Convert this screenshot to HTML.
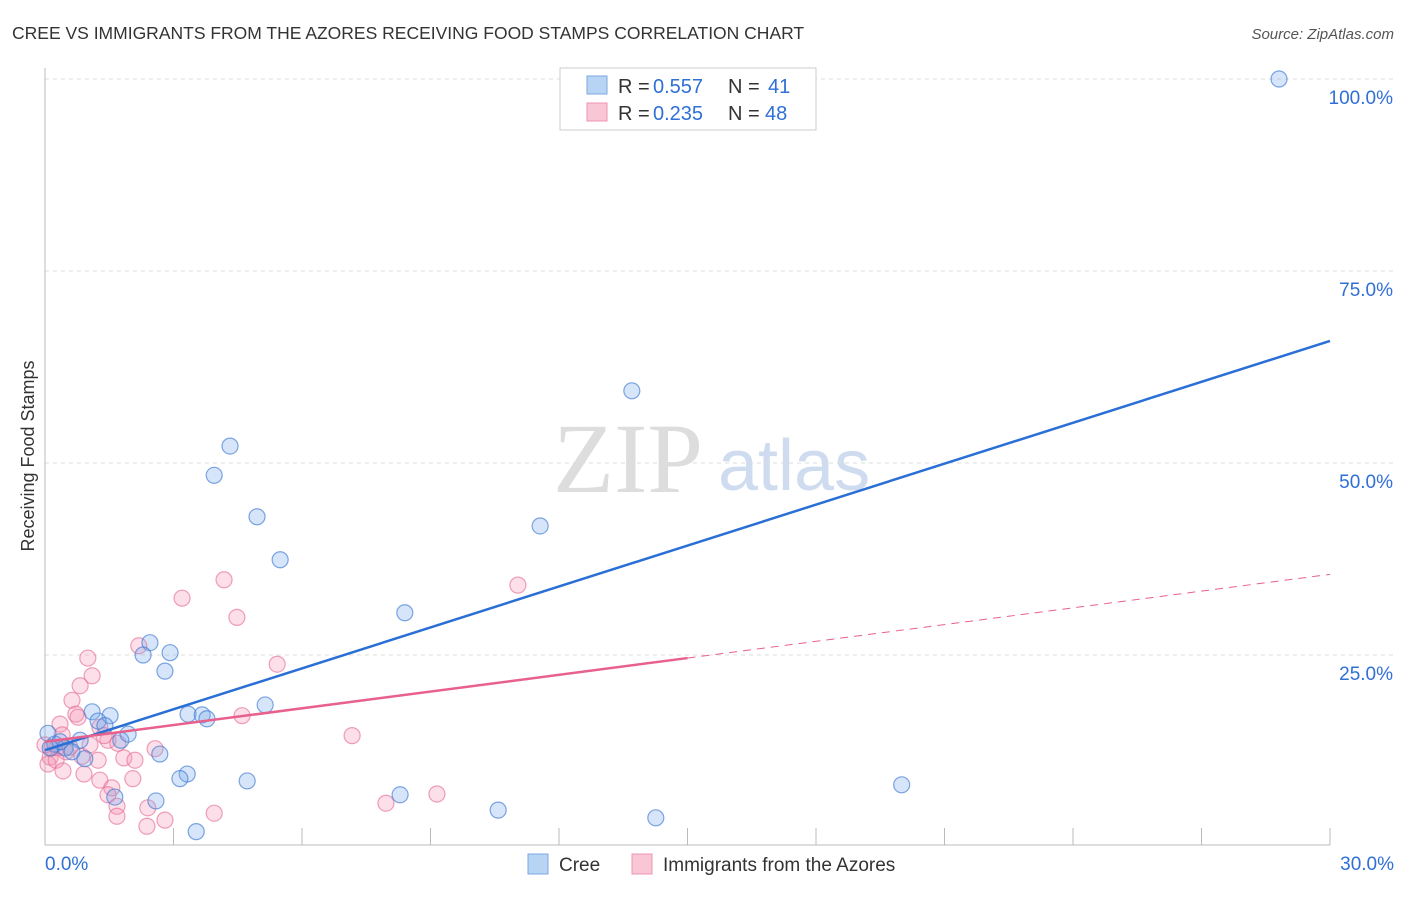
<!DOCTYPE html>
<html><head><meta charset="utf-8"><style>
body{margin:0;background:#fff;font-family:"Liberation Sans",sans-serif;}
svg text{font-family:"Liberation Sans",sans-serif;}
</style></head><body>
<svg id="c" width="1406" height="892">
<text x="12" y="39" font-size="17.5" fill="#333">CREE VS IMMIGRANTS FROM THE AZORES RECEIVING FOOD STAMPS CORRELATION CHART</text>
<text x="1394" y="39" font-size="15" fill="#555" font-style="italic" text-anchor="end">Source: ZipAtlas.com</text>
<text x="34" y="456" font-size="18" fill="#333" text-anchor="middle" transform="rotate(-90 34 456)">Receiving Food Stamps</text>
<text x="553" y="492" font-size="100" fill="#ddd" style="font-family:'Liberation Serif',serif">ZIP</text>
<text x="718" y="490" font-size="72" fill="#cfdcf0">atlas</text>
<g id="grid"></g><g id="pts"></g><g id="lines"></g>
<g>
<rect x="560" y="68" width="256" height="62" fill="#fff" stroke="#ccc"/>
<rect x="587" y="76" width="20" height="18" fill="#b8d4f5" stroke="#7aa9e0"/>
<rect x="587" y="103" width="20" height="18" fill="#f9c6d6" stroke="#ee95b2"/>
<text x="618" y="93" font-size="20" fill="#333">R =</text><text x="653" y="93" font-size="20" fill="#2f6fd6">0.557</text>
<text x="728" y="93" font-size="20" fill="#333">N =</text><text x="768" y="93" font-size="20" fill="#2f6fd6">41</text>
<text x="618" y="120" font-size="20" fill="#333">R =</text><text x="653" y="120" font-size="20" fill="#2f6fd6">0.235</text>
<text x="728" y="120" font-size="20" fill="#333">N =</text><text x="765" y="120" font-size="20" fill="#2f6fd6">48</text>
</g>
<g>
<rect x="528" y="854" width="20" height="20" fill="#b8d4f5" stroke="#7aa9e0"/>
<text x="559" y="871" font-size="19" fill="#333">Cree</text>
<rect x="632" y="854" width="20" height="20" fill="#f9c6d6" stroke="#ee95b2"/>
<text x="663" y="871" font-size="19" fill="#333">Immigrants from the Azores</text>
</g>
</svg>
<script>
const yTicks=[100,75,50,25];
const yTickLabels=["100.0%","75.0%","50.0%","25.0%"];
const xTickLabels=["0.0%","30.0%"];
const creeX=[28.81,13.70,4.32,3.95,4.95,11.56,5.49,8.40,2.45,2.29,2.92,2.80,5.14,3.34,3.67,3.78,1.10,1.52,1.24,1.40,1.77,1.94,0.82,0.23,0.47,0.07,0.63,2.68,3.32,3.15,4.72,0.93,1.63,2.59,8.29,10.58,14.26,3.53,20.0,0.35,0.12];
const creeY=[100,59.4,52.2,48.4,43.0,41.8,37.4,30.5,26.6,25.0,25.3,22.9,18.5,17.3,17.2,16.7,17.6,17.1,16.4,15.8,13.9,14.7,13.9,13.4,12.9,14.8,12.4,12.1,9.5,8.9,8.6,11.5,6.5,6.0,6.8,4.8,3.8,2.0,8.1,13.7,12.9];
const azX=[4.18,3.20,4.48,11.04,2.19,1.00,1.10,0.82,0.63,5.42,4.60,7.17,0.35,0.72,0.77,1.28,0.40,1.47,1.38,0.28,0.49,0.86,0.12,0.07,0.26,0.42,1.84,2.10,2.57,1.24,0.91,1.28,1.56,2.05,1.47,1.68,1.68,2.40,2.38,2.80,3.95,7.96,9.15,0.16,0,0.58,1.05,1.70];
const azY=[34.8,32.4,29.9,34.1,26.2,24.6,22.3,21.0,19.1,23.8,17.1,14.5,16.0,17.3,16.9,15.6,14.6,13.9,14.5,12.9,12.4,11.8,11.7,10.8,11.3,9.9,11.6,11.3,12.8,11.3,9.5,8.7,7.7,8.9,6.8,5.3,4.0,5.1,2.7,3.5,4.4,5.7,6.9,12.9,13.3,13.0,13.3,13.5];
const creeTrend=[12.6,65.9];
const azTrend=[13.7,35.5];
const azSolidEnd=15;
const X=v=>45+v/30*1285, Y=v=>847-v*7.68;
const NS='http://www.w3.org/2000/svg';
function mk(p,t,a){const e=document.createElementNS(NS,t);for(const k in a)e.setAttribute(k,a[k]);p.appendChild(e);return e;}
const grid=document.getElementById('grid'),pts=document.getElementById('pts'),lines=document.getElementById('lines');
yTicks.forEach((t,i)=>{
 const l=mk(grid,'line',{x1:45,x2:1394,y1:Y(t),y2:Y(t),stroke:'#ddd','stroke-dasharray':'4,4'});
 
 
 const tx=mk(grid,'text',{x:1393,y:Y(t)+25,'font-size':19,fill:'#2f6fd6','text-anchor':'end'});tx.textContent=yTickLabels[i];
 
 
});
mk(grid,'line',{x1:45,x2:45,y1:68,y2:845,stroke:'#bbb'});
mk(grid,'line',{x1:45,x2:1330,y1:845,y2:845,stroke:'#bbb'});
for(let i=0;i<=10;i++){const t=mk(grid,'line',{x1:X(i*3),x2:X(i*3),y1:828,y2:845,stroke:'#bbb'});
 
 }
[[0,'start',45],[30,'end',1394]].forEach((d,i)=>{const t=mk(grid,'text',{x:d[2],y:870,'font-size':19,fill:'#2f6fd6','text-anchor':d[1]});t.textContent=xTickLabels[i];
 
 });
azX.forEach((x,i)=>{const c=mk(pts,'circle',{cx:X(x),cy:Y(azY[i]),r:8,fill:'rgba(244,150,180,0.3)',stroke:'rgba(230,110,150,0.65)','stroke-width':1.2});
 
 });
creeX.forEach((x,i)=>{const c=mk(pts,'circle',{cx:X(x),cy:Y(creeY[i]),r:8,fill:'rgba(120,170,235,0.3)',stroke:'rgba(60,120,210,0.65)','stroke-width':1.2});
 
 });
const b=mk(lines,'line',{x1:X(0),y1:Y(creeTrend[0]),x2:X(30),y2:Y(creeTrend[1]),stroke:'#2a6fd6','stroke-width':2.5});


const az=v=>azTrend[0]+(azTrend[1]-azTrend[0])*v/30;
const p=mk(lines,'line',{x1:X(0),y1:Y(az(0)),x2:X(azSolidEnd),y2:Y(az(azSolidEnd)),stroke:'#e8608c','stroke-width':2.5});


const pd=mk(lines,'line',{x1:X(azSolidEnd),y1:Y(az(azSolidEnd)),x2:X(30),y2:Y(az(30)),stroke:'#e8608c','stroke-width':1,'stroke-dasharray':'8,6'});


</script>
</body></html>
